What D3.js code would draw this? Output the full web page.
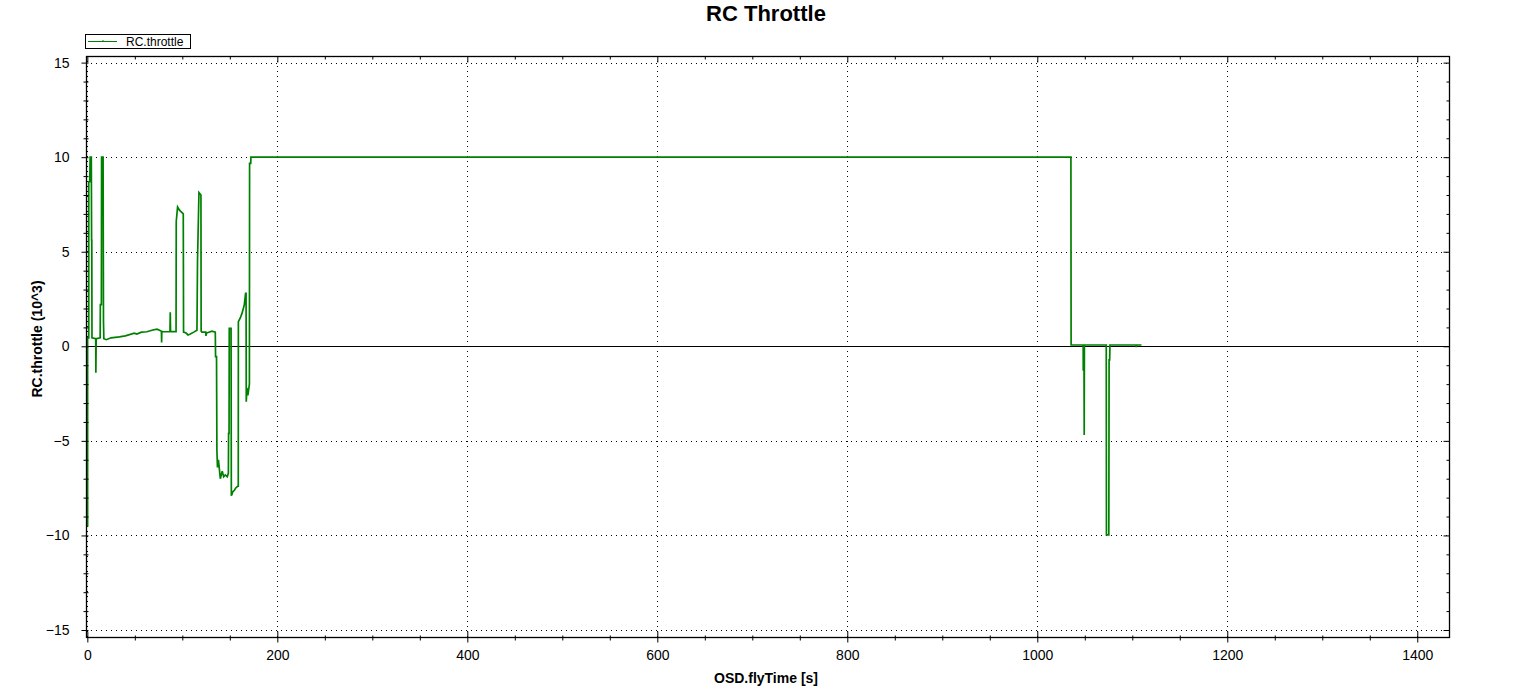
<!DOCTYPE html>
<html>
<head>
<meta charset="utf-8">
<script src="https://cdn.jsdelivr.net/npm/d3@7"></script>
<style>
  html, body { margin: 0; padding: 0; background: #fff; }
  svg { display: block; font-family: "Liberation Sans", Arial, sans-serif; }
</style>
</head>
<body>
<svg id="chart" width="1534" height="687"></svg>
<script>
// ---- data ----
const chartTitle = "RC Throttle";
const seriesName = "RC.throttle";
const xLabel = "OSD.flyTime [s]";
const yLabel = "RC.throttle (10^3)";

const xTickValues = [0, 200, 400, 600, 800, 1000, 1200, 1400];
const yTickValues = [-15, -10, -5, 0, 5, 10, 15];

const flyTime = [
  0, 0.3, 0.3, 1.5, 1.5, 2.5, 3.0, 4.2, 4.5, 4.7, 4.9, 8.8, 9.0, 9.3, 9.5,
  13.5, 13.7, 14.8, 15.0, 16.6, 17.0, 17.4, 20, 25, 33.7, 40, 49.5, 52, 57,
  62.8, 68, 73.3, 76, 78, 78.2, 78.4, 80.3, 87, 87.3, 87.6, 93.4, 93.6, 95,
  97, 101, 101.3, 104, 106, 108.4, 112, 115.4, 116, 117.5, 119.6, 119.8,
  120.7, 124.7, 124.9, 125.5, 131.2, 134.7, 135.0, 136.0, 136.4, 137.0, 138,
  140, 142, 143.5, 145.2, 147.3, 148.5, 148.7, 149.2, 149.4, 151.3, 151.6,
  152.5, 153, 155, 156, 158.2, 158.9, 159.0, 161, 162.8, 165.2, 166.6, 167.1, 167.3, 168,
  169, 170.6, 170.8, 172.0, 172.2, 1035.4, 1035.6, 1048.3, 1048.4, 1049.2,
  1049.4, 1049.6, 1072.6, 1072.8, 1075.3, 1075.6, 1076.2, 1076.5, 1104,
  1104.2, 1104.4, 1109.7
];
const throttle = [
  -9.5, -9.5, 0.45, 0.45, 8.7, 8.7, 10.0, 10.0, 5.6, 5.6, 0.45, 0.4, -1.4, 0.3, 0.4,
  0.45, 2.2, 2.2, 10.0, 10.0, 1.3, 0.4, 0.35, 0.45, 0.5, 0.55, 0.69, 0.65, 0.75,
  0.77, 0.85, 0.91, 0.85, 0.8, 0.2, 0.78, 0.77, 0.78, 1.8, 0.78, 0.78, 6.6, 7.37,
  7.2, 7.0, 0.75, 0.7, 0.6, 0.65, 0.75, 0.85, 4.56, 8.13, 8.0, 0.8,
  0.75, 0.75, 0.55, 0.7, 0.8, 0.75, -0.55, -0.55, -5.5, -6.4, -6.0,
  -7.0, -6.6, -6.9, -6.8, -6.9, -6.7, -4.6, -4.6, 0.95, 0.95, -7.9,
  -7.8, -7.7, -7.6, -7.5, -7.4, -7.4, 1.3, 1.5, 1.74, 2.18, 2.8, 2.8, -2.93, -2.2,
  -2.6, -2.0, 9.67, 9.67, 10.0, 10.0, 0.07, 0.07, -1.25, -1.25,
  -4.69, 0.07, 0.07, -9.97, -9.97, -0.72, -0.72, 0.07, 0.07,
  -0.05, 0.07, 0.07
];

// ---- layout ----
const svg = d3.select("#chart");
const plot = { left: 86, right: 1449, top: 56, bottom: 637 };

const x = d3.scaleLinear().domain([-1.4, 1433.4]).range([plot.left, plot.right]);
const y = d3.scaleLinear().domain([-15.37, 15.35]).range([plot.bottom, plot.top]);

const xMinor = d3.range(0, 1433, 50).filter(v => v % 200 !== 0);
const yMinor = d3.range(-15, 16, 1).filter(v => v % 5 !== 0);

// grid (dotted)
const grid = svg.append("g");
grid.selectAll(".gx").data(xTickValues).enter().append("line")
  .attr("x1", d => Math.round(x(d)) + 0.5).attr("x2", d => Math.round(x(d)) + 0.5)
  .attr("y1", plot.top).attr("y2", plot.bottom)
  .attr("stroke", "#000").attr("stroke-width", 1).attr("stroke-dasharray", "1,4");
grid.selectAll(".gy").data(yTickValues).enter().append("line")
  .attr("y1", d => Math.round(y(d)) + 0.5).attr("y2", d => Math.round(y(d)) + 0.5)
  .attr("x1", plot.left).attr("x2", plot.right)
  .attr("stroke", "#000").attr("stroke-width", 1).attr("stroke-dasharray", "1,4");

// zero line
svg.append("line")
  .attr("x1", plot.left).attr("x2", plot.right)
  .attr("y1", Math.round(y(0)) + 0.5).attr("y2", Math.round(y(0)) + 0.5)
  .attr("stroke", "#000").attr("stroke-width", 1);

// data line
const pts = flyTime.map((t, i) => [t, throttle[i]]);
const line = d3.line().x(d => x(d[0])).y(d => y(d[1]));
svg.append("path")
  .datum(pts)
  .attr("d", line)
  .attr("fill", "none")
  .attr("stroke", "#008000")
  .attr("stroke-width", 1.7)
  .attr("stroke-linejoin", "miter");

// frame
svg.append("rect")
  .attr("x", plot.left + 0.5).attr("y", plot.top + 0.5)
  .attr("width", plot.right - plot.left).attr("height", plot.bottom - plot.top)
  .attr("fill", "none").attr("stroke", "#000").attr("stroke-width", 1.3);

// axes via d3 axes
const tickFont = "14px";
const xAxisB = d3.axisBottom(x).tickValues(xTickValues).tickSize(5).tickPadding(8).tickFormat(d3.format("d"));
const gxB = svg.append("g").attr("transform", `translate(0,${plot.bottom + 0.5})`).call(xAxisB);
gxB.select(".domain").remove();
gxB.selectAll("text").attr("font-size", tickFont).attr("fill", "#000").attr("font-family", "Liberation Sans, Arial, sans-serif");
gxB.selectAll(".tick line").attr("y1", -6).attr("y2", 5).attr("stroke", "#000");

const xAxisBm = d3.axisBottom(x).tickValues(xMinor).tickSize(3).tickFormat("");
const gxBm = svg.append("g").attr("transform", `translate(0,${plot.bottom + 0.5})`).call(xAxisBm);
gxBm.select(".domain").remove();
gxBm.selectAll(".tick line").attr("y1", -2).attr("y2", 3).attr("stroke", "#000");

const xAxisT = d3.axisTop(x).tickValues(xTickValues).tickSize(0).tickFormat("");
const gxT = svg.append("g").attr("transform", `translate(0,${plot.top + 0.5})`).call(xAxisT);
gxT.select(".domain").remove();
gxT.selectAll(".tick line").attr("y1", 0).attr("y2", 6).attr("stroke", "#000");
const gxTm = svg.append("g").attr("transform", `translate(0,${plot.top + 0.5})`)
  .call(d3.axisTop(x).tickValues(xMinor).tickSize(0).tickFormat(""));
gxTm.select(".domain").remove();
gxTm.selectAll(".tick line").attr("y1", 0).attr("y2", 3).attr("stroke", "#000");

const yAxisL = d3.axisLeft(y).tickValues(yTickValues).tickSize(5).tickPadding(12).tickFormat(d3.format("d"));
const gyL = svg.append("g").attr("transform", `translate(${plot.left + 0.5},0)`).call(yAxisL);
gyL.select(".domain").remove();
gyL.selectAll("text").attr("font-size", tickFont).attr("fill", "#000").attr("font-family", "Liberation Sans, Arial, sans-serif");
gyL.selectAll(".tick line").attr("x1", -5).attr("x2", 2).attr("stroke", "#000");
const gyLm = svg.append("g").attr("transform", `translate(${plot.left + 0.5},0)`)
  .call(d3.axisLeft(y).tickValues(yMinor).tickSize(3).tickFormat(""));
gyLm.select(".domain").remove();
gyLm.selectAll(".tick line").attr("x1", -3).attr("x2", 2).attr("stroke", "#000");

const gyR = svg.append("g").attr("transform", `translate(${plot.right + 0.5},0)`)
  .call(d3.axisRight(y).tickValues(yTickValues).tickSize(0).tickFormat(""));
gyR.select(".domain").remove();
gyR.selectAll(".tick line").attr("x1", -6).attr("x2", 0).attr("stroke", "#000");
const gyRm = svg.append("g").attr("transform", `translate(${plot.right + 0.5},0)`)
  .call(d3.axisRight(y).tickValues(yMinor).tickSize(0).tickFormat(""));
gyRm.select(".domain").remove();
gyRm.selectAll(".tick line").attr("x1", -3).attr("x2", 0).attr("stroke", "#000");

// title & labels
svg.append("text").attr("x", 766).attr("y", 21).attr("text-anchor", "middle")
  .attr("font-size", "22px").attr("font-weight", "bold").text(chartTitle);
svg.append("text").attr("x", 766).attr("y", 683).attr("text-anchor", "middle")
  .attr("font-size", "14px").attr("font-weight", "bold").text(xLabel);
svg.append("text").attr("transform", "translate(41.5,339) rotate(-90)").attr("text-anchor", "middle")
  .attr("font-size", "14px").attr("font-weight", "bold").text(yLabel);

// legend
const lg = svg.append("g");
lg.append("rect").attr("x", 85.5).attr("y", 34.5).attr("width", 105).attr("height", 14)
  .attr("fill", "#fff").attr("stroke", "#000").attr("stroke-width", 1);
lg.append("line").attr("x1", 88).attr("x2", 117).attr("y1", 41.5).attr("y2", 41.5)
  .attr("stroke", "#008000").attr("stroke-width", 1);
lg.append("line").attr("x1", 103).attr("x2", 103).attr("y1", 40).attr("y2", 41.5)
  .attr("stroke", "#008000").attr("stroke-width", 1);
lg.append("text").attr("x", 126).attr("y", 46).attr("font-size", "12px").attr("fill", "#000").text(seriesName);
</script>
</body>
</html>
